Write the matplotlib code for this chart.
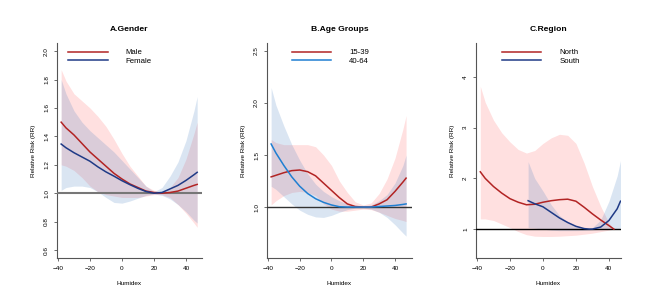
import numpy as np
import matplotlib.pyplot as plt

plt.rcParams['font.family'] = ['Liberation Sans', 'DejaVu Sans']

# ---- A. Gender ----
hx_a = [-38, -35, -30, -25, -20, -15, -10, -5, 0, 5, 10, 15, 20, 25, 30, 35, 40, 45, 47]
male_rr = [1.50, 1.46, 1.41, 1.35, 1.29, 1.24, 1.19, 1.14, 1.10, 1.065, 1.04, 1.015, 1.005, 1.0, 1.005, 1.015, 1.035, 1.055, 1.062]
male_hi = [1.87, 1.79, 1.70, 1.65, 1.60, 1.54, 1.47, 1.38, 1.28, 1.19, 1.12, 1.05, 1.02, 1.01, 1.04, 1.11, 1.24, 1.42, 1.50]
male_lo = [1.20, 1.19, 1.16, 1.11, 1.05, 1.01, 0.99, 0.98, 0.97, 0.97, 0.97, 0.98, 0.99, 0.99, 0.97, 0.92, 0.86, 0.79, 0.76]
female_rr = [1.346, 1.32, 1.285, 1.255, 1.225, 1.185, 1.15, 1.12, 1.088, 1.06, 1.034, 1.012, 1.0, 1.005, 1.03, 1.055, 1.09, 1.13, 1.147]
female_hi = [1.80, 1.70, 1.58, 1.50, 1.44, 1.39, 1.34, 1.29, 1.23, 1.17, 1.11, 1.05, 1.01, 1.04, 1.12, 1.22, 1.37, 1.58, 1.68]
female_lo = [1.02, 1.04, 1.05, 1.05, 1.04, 1.01, 0.97, 0.935, 0.93, 0.945, 0.965, 0.985, 0.995, 0.985, 0.96, 0.92, 0.87, 0.81, 0.79]

# ---- B. Age groups ----
hx_b = [-38, -35, -30, -25, -20, -15, -10, -5, 0, 5, 10, 15, 20, 25, 30, 35, 40, 45, 47]
young_rr = [1.29, 1.305, 1.33, 1.35, 1.356, 1.34, 1.30, 1.23, 1.16, 1.09, 1.03, 1.005, 1.0, 1.0, 1.03, 1.07, 1.15, 1.24, 1.278]
young_hi = [1.65, 1.62, 1.60, 1.60, 1.60, 1.60, 1.58, 1.50, 1.40, 1.25, 1.14, 1.05, 1.02, 1.04, 1.13, 1.27, 1.47, 1.75, 1.88]
young_lo = [1.02, 1.06, 1.11, 1.14, 1.15, 1.14, 1.11, 1.03, 0.98, 0.96, 0.96, 0.97, 0.98, 0.975, 0.95, 0.92, 0.89, 0.87, 0.86]
old_rr = [1.606, 1.52, 1.40, 1.29, 1.20, 1.13, 1.08, 1.045, 1.02, 1.003, 1.0, 1.0, 1.0, 1.0, 1.005, 1.01, 1.015, 1.025, 1.03]
old_hi = [2.15, 1.98, 1.78, 1.60, 1.45, 1.32, 1.22, 1.15, 1.10, 1.06, 1.03, 1.01, 1.01, 1.02, 1.06, 1.12, 1.23, 1.40, 1.50]
old_lo = [1.20, 1.17, 1.10, 1.03, 0.97, 0.93, 0.905, 0.90, 0.92, 0.95, 0.975, 0.99, 0.99, 0.98, 0.95, 0.90, 0.83, 0.75, 0.72]

# ---- C. Region ----
hx_north = [-38, -35, -30, -25, -20, -15, -10, -5, 0, 5, 10, 15, 20, 25, 30, 35, 40, 43]
north_rr = [2.13, 2.0, 1.84, 1.71, 1.60, 1.53, 1.48, 1.49, 1.53, 1.56, 1.58, 1.59, 1.55, 1.43, 1.30, 1.18, 1.07, 1.0]
north_hi = [3.82, 3.50, 3.15, 2.90, 2.72, 2.57, 2.50, 2.55, 2.69, 2.80, 2.87, 2.85, 2.69, 2.30, 1.84, 1.45, 1.12, 1.0]
north_lo = [1.20, 1.20, 1.17, 1.10, 1.03, 0.95, 0.89, 0.86, 0.855, 0.855, 0.86, 0.87, 0.88, 0.90, 0.92, 0.95, 0.98, 1.0]
hx_south = [-9, -5, 0, 5, 10, 15, 20, 25, 28, 30, 35, 40, 45, 47]
south_rr = [1.56, 1.50, 1.44, 1.33, 1.22, 1.13, 1.055, 1.01, 1.0, 1.0, 1.04, 1.17, 1.40, 1.55]
south_hi = [2.33, 2.0, 1.75, 1.48, 1.27, 1.14, 1.06, 1.02, 1.01, 1.03, 1.18, 1.55, 2.05, 2.35]
south_lo = [1.03, 1.02, 1.0, 0.98, 0.97, 0.97, 0.97, 0.975, 0.98, 0.985, 0.995, 1.0, 1.0, 1.02]

RED = '#b22424'
NAVY = '#1f3a86'
SKY = '#1f7fd2'
PINK = (1.0, 0.0, 0.0, 0.12)
LBLUE = (0.23, 0.47, 0.75, 0.19)

fig = plt.figure(figsize=(6.69, 3.07), dpi=100)
boxes = [[0.0852, 0.1596, 0.2167, 0.7003],
         [0.3991, 0.1596, 0.2167, 0.7003],
         [0.7115, 0.1596, 0.2167, 0.7003]]


def panel(box, title, xlim, ylim, yticks, ylabels, series, ref_color, ref_lw, leg_x):
    ax = fig.add_axes(box)
    for hx, rr, lo, hi, lc, fc, lab in series:
        ax.fill_between(hx, lo, hi, color=fc, linewidth=0)
    ax.axhline(1.0, color=ref_color, lw=ref_lw, zorder=3)
    for hx, rr, lo, hi, lc, fc, lab in series:
        ax.plot(hx, rr, color=lc, lw=1.1, label=lab, zorder=4)
    ax.set_xlim(*xlim)
    ax.set_ylim(*ylim)
    ax.set_xticks([-40, -20, 0, 20, 40])
    ax.set_yticks(yticks)
    ax.set_yticklabels(ylabels, rotation=90, va='center')
    for s in ['top', 'right']:
        ax.spines[s].set_visible(False)
    for s in ['left', 'bottom']:
        ax.spines[s].set_color('#555555')
        ax.spines[s].set_linewidth(0.8)
    ax.tick_params(labelsize=4.6, length=2.2, width=0.6, color='#555555', pad=3.5)
    ax.set_xlabel('Humidex', fontsize=4.6, labelpad=7)
    ax.set_ylabel('Relative Risk (RR)', fontsize=4.6, labelpad=6)
    ax.set_title(title, fontsize=6.1, fontweight='bold', pad=8.5)
    ax.legend(loc='upper left', bbox_to_anchor=(leg_x, 0.972), frameon=False,
              fontsize=5.6, handlelength=5.1, handletextpad=2.3,
              labelspacing=0.1, borderpad=0, borderaxespad=0)
    return ax


panel(boxes[0], 'A.Gender', (-40.6, 50), (0.544, 2.057),
      [0.6, 0.8, 1.0, 1.2, 1.4, 1.6, 1.8, 2.0],
      ['0.6', '0.8', '1.0', '1.2', '1.4', '1.6', '1.8', '2.0'],
      [(hx_a, male_rr, male_lo, male_hi, RED, PINK, 'Male'),
       (hx_a, female_rr, female_lo, female_hi, NAVY, LBLUE, 'Female')],
      '#777777', 1.5, 0.076)

panel(boxes[1], 'B.Age Groups', (-40.6, 50.7), (0.51, 2.577),
      [1.0, 1.5, 2.0, 2.5], ['1.0', '1.5', '2.0', '2.5'],
      [(hx_b, young_rr, young_lo, young_hi, RED, PINK, '15-39'),
       (hx_b, old_rr, old_lo, old_hi, SKY, LBLUE, '40-64')],
      '#333333', 1.0, 0.17)

panel(boxes[2], 'C.Region', (-40.6, 47.3), (0.43, 4.67),
      [1, 2, 3, 4], ['1', '2', '3', '4'],
      [(hx_north, north_rr, north_lo, north_hi, RED, PINK, 'North'),
       (hx_south, south_rr, south_lo, south_hi, NAVY, LBLUE, 'South')],
      '#000000', 1.0, 0.177)

fig.savefig('out.png', dpi=100)
